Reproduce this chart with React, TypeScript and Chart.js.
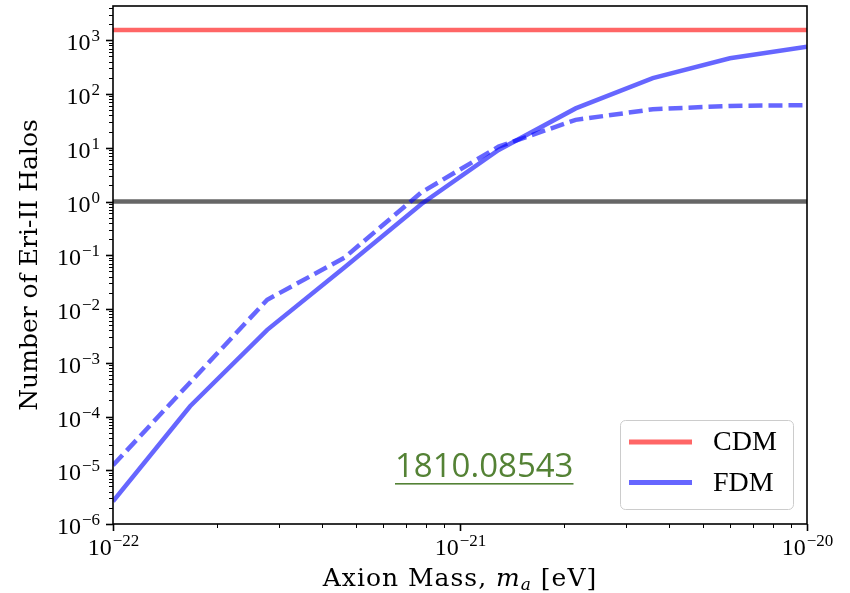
import React, { useEffect, useRef } from 'react';
import { Chart, registerables } from 'chart.js';
Chart.register(...registerables);

// ---- data ----
const AXION_MASS = [1e-22, 1.668e-22, 2.783e-22, 4.642e-22, 7.743e-22, 1.292e-21, 2.154e-21, 3.594e-21, 5.995e-21, 1e-20];
const FDM_SOLID = [2.65e-6, 1.55e-4, 4.1e-3, 0.059, 0.9, 9.1, 54, 197, 463, 760];
const FDM_DASHED = [1.24e-5, 4.3e-4, 0.0149, 0.09, 1.48, 10.5, 33, 52, 60, 62];
const CDM_LEVEL = 1550;
const UNITY_LEVEL = 1;
const X_RANGE = [1e-22, 1e-20];
const Y_RANGE = [1e-6, 4340];
const X_TICK_EXP = [-22, -21, -20];
const Y_TICK_EXP = [-6, -5, -4, -3, -2, -1, 0, 1, 2, 3];
const LEGEND_LABELS = ['CDM', 'FDM'];
const ANNOTATION = '1810.08543';
const Y_TITLE = 'Number of Eri-II Halos';
const X_TITLE_PARTS = ['Axion Mass, ', 'm', 'a', ' [eV]'];

const RED = 'rgba(255,0,0,0.6)';
const BLUE = 'rgba(0,0,255,0.6)';
const GREY = 'rgba(0,0,0,0.6)';
const SERIF = '"Liberation Serif", "DejaVu Serif", serif';
const TITLE_SERIF = '"DejaVu Serif", "Liberation Serif", serif';

function buildLogTicks(exps: number[], max: number) {
  const ticks: { value: number; major: boolean }[] = [];
  exps.forEach((e) => {
    ticks.push({ value: Number(`1e${e}`), major: true });
    for (let k = 2; k <= 9; k++) {
      const v = Number(`${k}e${e}`);
      if (v <= max) ticks.push({ value: v, major: false });
    }
  });
  return ticks;
}

function drawPow(ctx: CanvasRenderingContext2D, exp: number, x: number, baseline: number, align: 'center' | 'right') {
  const base = '10';
  const ex = exp < 0 ? '\u2212' + Math.abs(exp) : String(exp);
  ctx.font = `24px ${SERIF}`;
  const wb = ctx.measureText(base).width;
  ctx.font = `17px ${SERIF}`;
  const we = ctx.measureText(ex).width;
  const total = wb + we + 1;
  const start = align === 'center' ? x - total / 2 : x - total;
  ctx.textAlign = 'left';
  ctx.textBaseline = 'alphabetic';
  ctx.fillStyle = '#000';
  ctx.font = `24px ${SERIF}`;
  ctx.fillText(base, start, baseline);
  ctx.font = `17px ${SERIF}`;
  ctx.fillText(ex, start + wb + 1, baseline - 9);
}

const decorPlugin = {
  id: 'decor',
  afterDatasetsDraw(chart: any) {
    const { ctx, chartArea: a, scales } = chart;
    ctx.save();
    // frame
    ctx.strokeStyle = '#000';
    ctx.lineWidth = 1.6;
    ctx.strokeRect(a.left, a.top, a.right - a.left, a.bottom - a.top);

    // x ticks
    const xs = scales.x;
    xs.ticks.forEach((t: any) => {
      const px = Math.round(xs.getPixelForValue(t.value)) + 0.5;
      ctx.beginPath();
      ctx.lineWidth = t.major ? 1.6 : 1;
      ctx.moveTo(px, a.bottom);
      ctx.lineTo(px, a.bottom + (t.major ? 7 : 4));
      ctx.stroke();
      if (t.major) {
        const e = Math.round(Math.log10(t.value));
        drawPow(ctx, e, px, a.bottom + 31, 'center');
      }
    });
    // y ticks
    const ys = scales.y;
    ys.ticks.forEach((t: any) => {
      const py = Math.round(ys.getPixelForValue(t.value)) + 0.5;
      ctx.beginPath();
      ctx.lineWidth = t.major ? 1.6 : 1;
      ctx.moveTo(a.left, py);
      ctx.lineTo(a.left - (t.major ? 7 : 4), py);
      ctx.stroke();
      if (t.major) {
        const e = Math.round(Math.log10(t.value));
        drawPow(ctx, e, a.left - 13, py + 9, 'right');
      }
    });

    // axis titles
    ctx.fillStyle = '#000';
    ctx.textBaseline = 'alphabetic';
    const f = `25px ${TITLE_SERIF}`;
    const fi = `italic 25px ${TITLE_SERIF}`;
    const fs = `italic 17px ${TITLE_SERIF}`;
    (ctx as any).letterSpacing = '1px';
    ctx.font = f; const w0 = ctx.measureText(X_TITLE_PARTS[0]).width;
    ctx.font = fi; const w1 = ctx.measureText(X_TITLE_PARTS[1]).width;
    ctx.font = fs; const w2 = ctx.measureText(X_TITLE_PARTS[2]).width;
    ctx.font = f; const w3 = ctx.measureText(X_TITLE_PARTS[3]).width;
    const tw = w0 + w1 + w2 + w3;
    let cx = (a.left + a.right) / 2 - tw / 2;
    const by = a.bottom + 62;
    ctx.textAlign = 'left';
    ctx.font = f; ctx.fillText(X_TITLE_PARTS[0], cx, by); cx += w0;
    ctx.font = fi; ctx.fillText(X_TITLE_PARTS[1], cx, by); cx += w1;
    ctx.font = fs; ctx.fillText(X_TITLE_PARTS[2], cx, by + 4); cx += w2;
    ctx.font = f; ctx.fillText(X_TITLE_PARTS[3], cx, by);
    (ctx as any).letterSpacing = '0px';

    ctx.save();
    ctx.translate(37, (a.top + a.bottom) / 2);
    ctx.rotate(-Math.PI / 2);
    ctx.textAlign = 'center';
    ctx.font = f;
    ctx.fillText(Y_TITLE, 0, 0);
    ctx.restore();

    // annotation
    ctx.font = `33px "Open Sans", "Liberation Sans", sans-serif`;
    ctx.fillStyle = '#548235';
    ctx.textAlign = 'left';
    const aw = ctx.measureText(ANNOTATION).width;
    const ax = 395;
    ctx.fillText(ANNOTATION, ax, a.top + 471);
    ctx.fillRect(ax, a.top + 477, aw, 1.6);

    // legend
    const lx = 620.5, ly = 420.5, lw = 173, lh = 89;
    ctx.beginPath();
    ctx.roundRect(lx, ly, lw, lh, 5);
    ctx.fillStyle = 'rgba(255,255,255,0.8)';
    ctx.fill();
    ctx.strokeStyle = '#cccccc';
    ctx.lineWidth = 1;
    ctx.stroke();
    const items = chart.data.datasets.filter((d: any) => LEGEND_LABELS.includes(d.label));
    items.forEach((d: any, i: number) => {
      const yy = 442 + i * 40.5;
      ctx.beginPath();
      ctx.strokeStyle = d.borderColor;
      ctx.lineWidth = 5;
      ctx.moveTo(629, yy);
      ctx.lineTo(692, yy);
      ctx.stroke();
      ctx.fillStyle = '#000';
      ctx.font = `28px ${SERIF}`;
      ctx.textBaseline = 'middle';
      ctx.fillText(d.label, 713, yy + 1);
    });
    ctx.restore();
  },
};

export default function App() {
  const ref = useRef<HTMLCanvasElement>(null);
  useEffect(() => {
    const pts = (ys: number[]) => AXION_MASS.map((x, i) => ({ x, y: ys[i] }));
    const flat = (v: number) => [{ x: X_RANGE[0], y: v }, { x: X_RANGE[1], y: v }];
    const chart = new Chart(ref.current!, {
      type: 'line',
      data: {
        datasets: [
          { label: 'CDM', data: flat(CDM_LEVEL), borderColor: RED, borderWidth: 4.5 },
          { label: 'FDM', data: pts(FDM_SOLID), borderColor: BLUE, borderWidth: 4.5 },
          { label: 'FDM dashed', data: pts(FDM_DASHED), borderColor: BLUE, borderWidth: 4.5, borderDash: [14, 6] },
          { label: 'unity', data: flat(UNITY_LEVEL), borderColor: GREY, borderWidth: 4.5 },
        ] as any,
      },
      options: {
        animation: false,
        responsive: false,
        parsing: true,
        elements: { point: { radius: 0 }, line: { tension: 0, borderCapStyle: 'butt' } },
        layout: { padding: { left: 0, right: 43, top: 6, bottom: 0 } },
        plugins: { legend: { display: false }, tooltip: { enabled: false } },
        scales: {
          x: {
            type: 'logarithmic',
            min: X_RANGE[0],
            max: X_RANGE[1],
            grid: { display: false },
            border: { display: false },
            ticks: { display: false },
            afterBuildTicks: (s: any) => { s.ticks = buildLogTicks(X_TICK_EXP, X_RANGE[1]); },
            afterFit: (s: any) => { s.height = 69; },
          },
          y: {
            type: 'logarithmic',
            min: Y_RANGE[0],
            max: Y_RANGE[1],
            grid: { display: false },
            border: { display: false },
            ticks: { display: false },
            afterBuildTicks: (s: any) => { s.ticks = buildLogTicks(Y_TICK_EXP, Y_RANGE[1]); },
            afterFit: (s: any) => { s.width = 113; },
          },
        },
      } as any,
      plugins: [decorPlugin],
    });
    return () => chart.destroy();
  }, []);
  return (
    <div style={{ position: 'fixed', left: 0, top: 0, width: 850, height: 593, background: '#fff' }}>
      <canvas ref={ref} width={850} height={593} />
    </div>
  );
}
